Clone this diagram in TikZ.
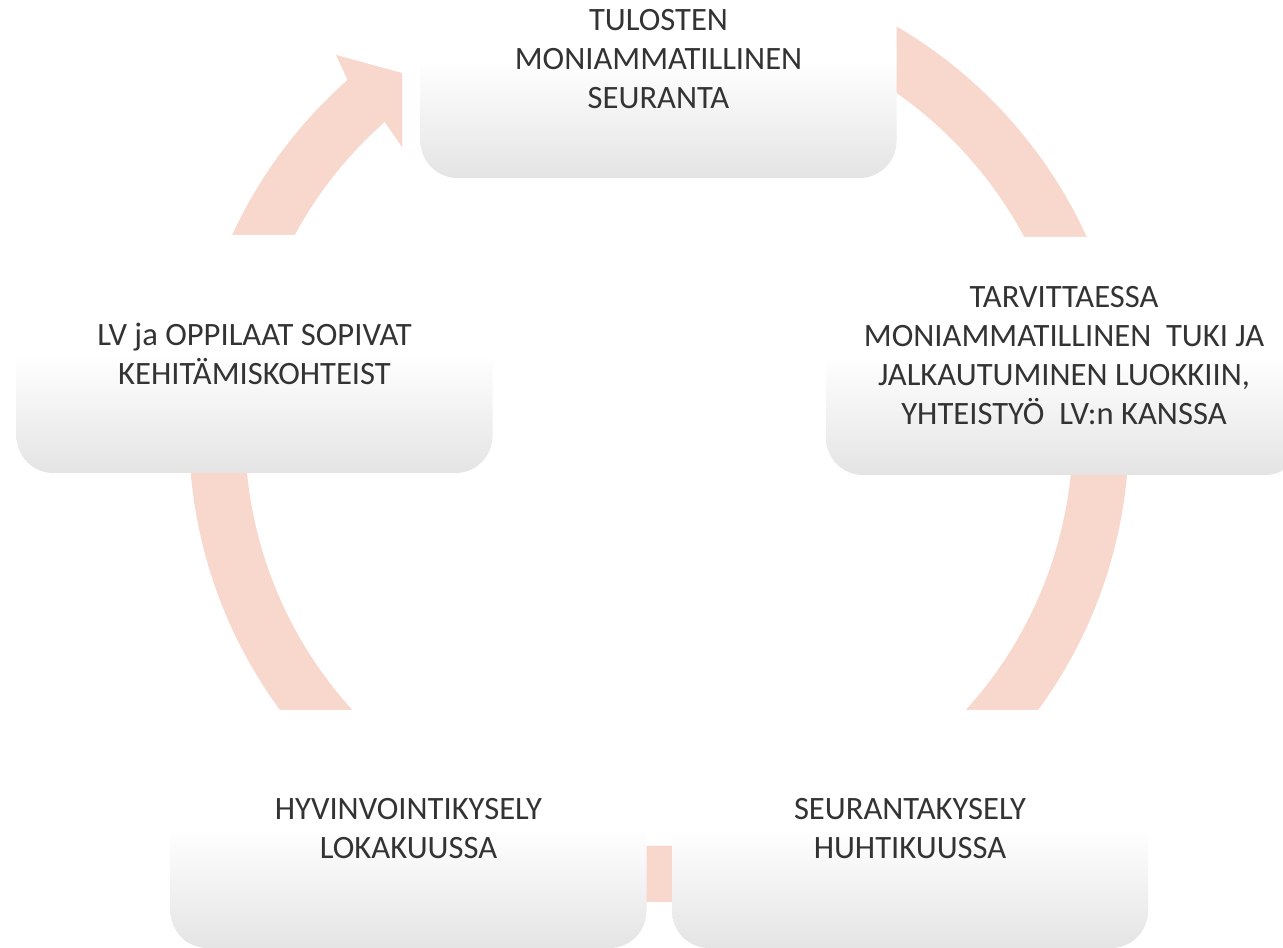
\documentclass[tikz,border=0pt]{standalone}
\usepackage{fontspec}
\setmainfont{Carlito}
\usetikzlibrary{calc}
\definecolor{ringSalmon}{RGB}{248,215,205}
\definecolor{boxGray}{RGB}{228,228,228}
\pgfdeclareverticalshading{boxshade}{100bp}{color(0bp)=(boxGray); color(25bp)=(boxGray); color(50bp)=(white); color(100bp)=(white)}

\begin{document}
\begin{tikzpicture}[
    x=0.5pt, y=0.5pt,
    stage/.style={rectangle, rounded corners=18.5pt, minimum width=238pt, minimum height=119pt, inner sep=0pt, align=center, shade, shading=boxshade, text=black!80, font=\fontsize{16.3}{19.5}\selectfont},
    ringband/.style={draw=ringSalmon, line width=28pt}
  ]
    \useasboundingbox (0,0) rectangle (1283,947);
    \clip (0,0) rectangle (1283,947);
    \fill[white] (0,0) rectangle (1283,947);

    % ring behind the stages
    \coordinate (ringc) at (659,515);
    \draw[ringband] ($(ringc)+(130.5:221pt)$) arc[start angle=130.5, end angle=440, radius=221pt];

    % arrow head into the top stage
    \fill[ringSalmon] ($(ringc)+(131.5:235pt)$) -- (336,892) -- (402,874) -- (402,800) -- ($(ringc)+(131.5:207pt)$) -- cycle;

    % stages
    \node[stage] (tulos) at (658.5,888) {TULOSTEN\\MONIAMMATILLINEN\\SEURANTA};
    \node[stage] (tuki) at (1064,591) {TARVITTAESSA\\MONIAMMATILLINEN\ \ TUKI JA\\JALKAUTUMINEN LUOKKIIN,\\YHTEISTYÖ\ \ LV:n KANSSA};
    \node[stage] (kysely2) at (910,118) {SEURANTAKYSELY\\HUHTIKUUSSA};
    \node[stage] (kysely1) at (408.5,118) {HYVINVOINTIKYSELY\\LOKAKUUSSA};
    \node[stage] (sopimus) at (254.5,593) {LV ja OPPILAAT SOPIVAT\\KEHITÄMISKOHTEIST};
\end{tikzpicture}
\end{document}
